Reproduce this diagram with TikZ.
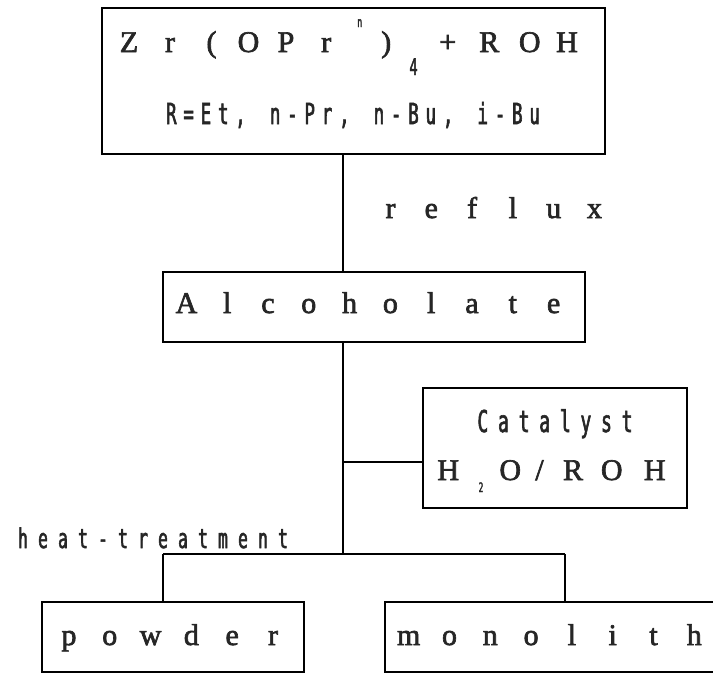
\documentclass[tikz,border=0pt]{standalone}
\usepackage{fontspec}
\newfontfamily\serifpr[FakeBold=2.2]{Liberation Serif}
\newfontfamily\dotm[FakeStretch=0.6,FakeBold=2]{DejaVu Sans Mono}
\makeatletter
\newcommand\lsp[2]{\def\lsp@sk{#1}\lsp@a#2\lsp@end}
\def\lsp@a#1{\ifx#1\lsp@end\else\makebox[\lsp@sk]{#1}\expandafter\lsp@a\fi}
\def\lsp@end{\lsp@end}
\makeatother
\newcommand\gb[2]{\makebox[#1pt]{#2}}
\newcommand\bigser{\serifpr\fontsize{30}{32}\selectfont}
\newcommand\dmsize[1]{\dotm\fontsize{#1}{#1}\selectfont}
\begin{document}
\begin{tikzpicture}[x=1pt,y=-1pt,
  boxst/.style={draw, line width=1.6pt, inner sep=0pt},
  conn/.style={line width=1.6pt},
  txt/.style={inner sep=0pt, anchor=base, text=black!85}]
\useasboundingbox (0,0) rectangle (713,673);
\clip (0,0) rectangle (713,673);
% boxes
\node[boxst, minimum width=503pt, minimum height=146pt] (top) at (353.5,81) {};
\node[boxst, minimum width=422pt, minimum height=70pt] (alc) at (374,307) {};
\node[boxst, minimum width=264pt, minimum height=120pt] (cat) at (555,448) {};
\node[boxst, minimum width=262pt, minimum height=70pt] (powder) at (173,637) {};
\node[boxst, minimum width=360pt, minimum height=70pt] (mono) at (565,637) {};
% texts
\node[txt] (t1) at (347.5,52) {\bigser\gb{39}{Z}\gb{43}{r}\gb{40}{(}\gb{34}{O}\gb{41}{P}\gb{39.5}{r}\gb{27.5}{\raisebox{25pt}{\dmsize{14}n}}\gb{25.5}{)}\gb{29}{\raisebox{-23pt}{\dmsize{23}4}}\gb{39.5}{+}\gb{43.5}{R}\gb{37.5}{O}\gb{37}{H}};
\node[txt] (t2) at (353,124) {\dmsize{29}\lsp{17.3pt}{R=Et,~n-Pr,~n-Bu,~i-Bu}};
\node[txt] (reflux) at (492.5,218) {\bigser\lsp{40.8pt}{reflux}};
\node[txt] (t3) at (370,313) {\bigser\lsp{40.8pt}{Alcoholate}};
\node[txt] (t4) at (555,432) {\dmsize{30}\lsp{20.6pt}{Catalyst}};
\node[txt] (t5) at (554,480) {\bigser\gb{34.5}{H}\gb{31}{\raisebox{-12pt}{\dmsize{13}2}}\gb{27.5}{O}\gb{31}{/}\gb{36}{R}\gb{41.5}{O}\gb{44.5}{H}};
\node[txt] (heat) at (153,548) {\dmsize{27}\lsp{20pt}{heat-treatment}};
\node[txt] (t6) at (171,645) {\bigser\lsp{40.8pt}{powder}};
\node[txt] (t7) at (551.5,645) {\bigser\lsp{40.8pt}{monolith}};
% connectors
\coordinate (split) at (343,554);
\coordinate (pl) at (163,554);
\coordinate (pr) at (565,554);
\coordinate (cj) at (423,462);
\draw[conn] (top.south -| split) -- (alc.north -| split);
\draw[conn] (alc.south -| split) -- (split);
\draw[conn] (pl) -- (pr);
\draw[conn] (pl) -- (pl |- powder.north);
\draw[conn] (pr) -- (pr |- mono.north);
\draw[conn] (cat.west |- cj) -- (cj -| split);
\end{tikzpicture}
\end{document}
